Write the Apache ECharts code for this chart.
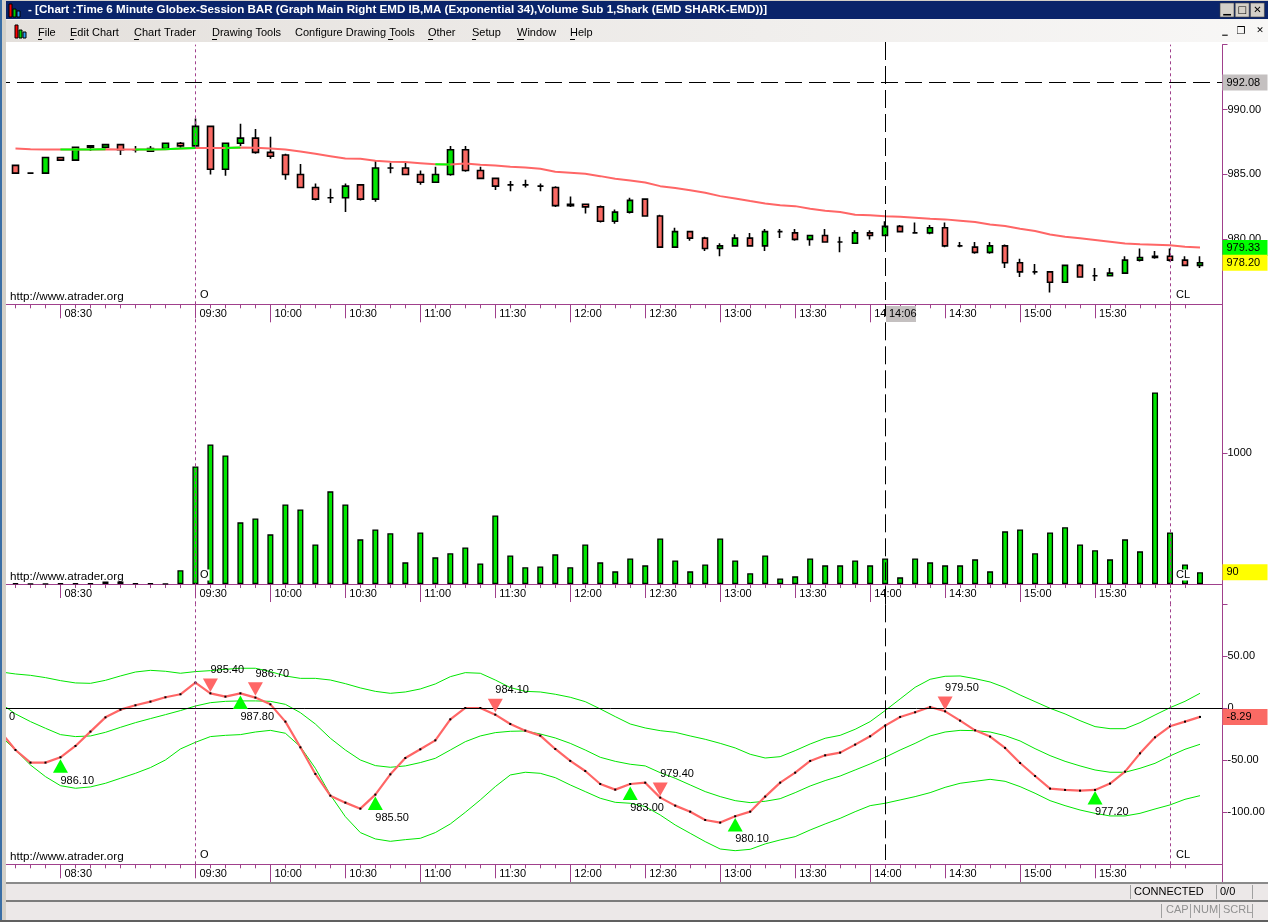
<!DOCTYPE html>
<html><head><meta charset="utf-8">
<style>html,body{margin:0;padding:0;background:#fff}#c{width:1268px;height:922px}</style>
<script src="https://cdn.jsdelivr.net/npm/echarts@6/dist/echarts.min.js"></script>
</head><body><div id="c"></div>
<script>
const tickBars=[3,12,17,22,27,32,37,42,47,52,57,62,67,72];
const tickLabels=['08:30','09:30','10:00','10:30','11:00','11:30','12:00','12:30','13:00','13:30','14:00','14:30','15:00','15:30'];
const longTickLabels=['10:00','11:00','12:00','13:00','14:00','15:00'];
const open=[985.7,985.1,985.1,986.3,986.1,987.1,987.1,987.3,986.9,986.8,987.0,987.4,987.2,988.7,985.4,987.4,987.8,986.7,986.5,985.0,984.0,983.2,983.2,984.2,983.1,985.5,985.5,985.0,984.4,985.0,986.9,985.3,984.7,984.2,984.2,984.1,984.0,982.6,982.7,982.5,981.4,982.1,983.1,981.8,979.4,980.6,980.1,979.3,979.5,980.1,979.5,980.6,980.5,980.0,980.3,979.8,979.7,980.5,980.3,981.0,980.5,980.5,980.9,979.5,979.4,979.0,979.5,978.2,977.5,977.5,976.7,978.0,977.2,977.2,977.4,978.4,978.6,978.7,978.4,978.0];
const close=[985.1,985.1,986.3,986.1,987.1,987.2,987.3,986.9,986.9,987.0,987.4,987.2,988.7,985.4,987.4,987.8,986.7,986.4,985.0,984.0,983.1,983.2,984.1,983.1,985.5,985.5,985.0,984.4,985.0,986.9,985.3,984.7,984.1,984.2,984.2,984.1,982.6,982.7,982.5,981.4,982.1,983.0,981.8,979.4,980.6,980.1,979.3,979.5,980.1,979.5,980.6,980.6,980.0,980.3,979.8,979.8,980.5,980.3,981.0,980.6,980.5,980.9,979.5,979.5,979.0,979.5,978.2,977.5,977.5,976.7,978.0,977.1,977.2,977.4,978.4,978.6,978.7,978.4,978.0,978.2];
const low=[985.1,985.1,985.1,986.1,986.1,986.8,987.0,986.5,986.7,986.8,987.0,987.0,987.2,985.0,984.9,987.2,986.6,986.2,984.6,984.0,983.0,982.8,982.1,983.0,982.9,985.1,985.0,984.2,984.4,984.9,985.2,984.7,983.8,983.7,984.0,983.7,982.5,982.5,982.0,981.3,981.2,982.0,981.8,979.4,979.4,979.9,979.1,978.7,979.5,979.5,979.1,980.1,979.9,979.5,979.8,979.0,979.7,980.0,980.3,980.6,980.5,980.4,979.4,979.4,978.9,978.9,977.8,977.1,977.3,975.9,976.7,977.1,976.8,977.2,977.4,978.3,978.5,978.3,978.0,977.8];
const high=[985.7,985.1,986.3,986.3,987.1,987.2,987.3,987.3,987.2,987.2,987.4,987.5,989.3,988.7,987.4,988.9,988.5,987.9,986.6,985.8,984.3,983.9,984.3,984.2,986.1,985.9,985.9,985.3,985.6,987.2,987.2,985.6,984.7,984.5,984.6,984.3,984.1,983.3,982.7,982.6,982.3,983.2,983.1,981.9,980.9,980.6,980.2,979.7,980.4,980.5,980.8,980.8,980.8,980.3,980.8,980.2,980.7,980.7,981.4,981.1,981.3,981.1,981.3,979.8,979.8,979.8,979.6,978.5,978.1,977.5,978.0,978.1,977.8,977.8,978.7,979.3,979.1,979.3,978.7,978.7];
const ema=[987.00,986.95,986.92,986.92,986.92,986.92,986.95,986.92,986.92,986.92,986.95,987.00,987.03,987.03,987.03,987.08,987.05,987.00,986.92,986.77,986.59,986.41,986.23,986.21,986.05,985.97,985.95,985.87,985.79,985.77,985.85,985.74,985.69,985.59,985.54,985.44,985.21,985.13,985.05,984.87,984.67,984.54,984.38,984.10,983.95,983.79,983.59,983.33,983.15,982.95,982.77,982.62,982.56,982.36,982.21,982.10,981.90,981.85,981.79,981.74,981.67,981.59,981.54,981.44,981.33,981.15,981.03,980.82,980.64,980.38,980.21,980.08,979.95,979.82,979.69,979.62,979.59,979.54,979.44,979.38];
const emaGreenRanges=[[3,6],[8,12],[14,15],[28,29]];
const volume=[5,3,3,5,5,5,20,20,5,5,3,105,900,1068,984,472,502,380,609,571,303,709,609,342,418,388,166,395,204,235,280,158,525,219,128,135,227,128,303,166,97,196,143,349,181,97,150,349,181,82,219,43,59,196,143,143,181,143,196,51,196,166,143,143,189,97,403,418,235,395,434,303,258,189,342,250,1466,395,150,90];
// the first value of each Shark line belongs to the bar just left of the window
const sharkLine=[-22.4,-40.1,-52.2,-52.2,-47.1,-36.2,-22.4,-8.7,-1.3,2.9,6.4,10.6,13.5,24.7,14.4,11.2,14.4,10.3,3.8,-12.8,-37.5,-63.1,-84.0,-90.7,-96.5,-83.0,-63.5,-47.8,-39.4,-30.8,-10.6,0.3,0.3,-6.1,-15.1,-21.5,-26.3,-39.1,-50.6,-60.3,-72.8,-78.2,-72.8,-71.5,-85.9,-93.6,-99.4,-107.4,-109.9,-103.8,-99.4,-84.9,-71.5,-61.9,-50.6,-45.2,-42.6,-34.9,-26.9,-16.7,-8.3,-3.8,1.3,-2.9,-11.9,-21.2,-27.2,-38.1,-52.6,-65.1,-77.2,-78.5,-79.2,-78.5,-72.4,-60.9,-43.3,-27.9,-17.3,-12.8,-8.29];
const bandUpper=[35,33.0,31.7,29.5,26.6,24.4,24.0,26.9,31.1,34.9,36.5,35.6,33.7,35.3,36.2,37.5,38.5,38.5,35.3,31.1,28.8,28.8,27.2,23.7,19.6,16.3,14.4,15.7,18.6,23.4,30.4,34.3,33.7,27.2,19.9,16.3,15.7,13.5,10.6,6.4,-0.6,-8.0,-15.1,-18.9,-21.5,-23.1,-26.6,-29.8,-33.7,-38.1,-44.2,-47.8,-46.5,-40.7,-34.3,-28.8,-26.0,-20.2,-12.8,-2.2,9.0,20.2,27.9,30.8,31.1,28.5,25.3,19.9,12.8,6.4,0,-5.4,-11.9,-17.6,-19.6,-19.6,-13.8,-6.4,0.6,6.7,14.4];
const bandMiddle=[4.8,-5.4,-12.8,-19.2,-25.3,-27.2,-26.6,-23.1,-18.3,-13.8,-9.9,-6.1,-2.2,2.2,5.4,6.7,7.1,7.1,6.7,3.8,-4.2,-15.1,-28.8,-40.1,-49.7,-55.1,-56.7,-55.4,-52.2,-48.1,-40.1,-32.1,-26.6,-23.4,-22.1,-21.8,-24.7,-28.5,-33.7,-40.1,-47.1,-51.0,-53.8,-55.4,-61.9,-67.3,-73.7,-80.1,-84.9,-88.8,-90.7,-89.4,-86.9,-81.1,-74.7,-69.5,-65.1,-59.3,-53.5,-47.1,-40.1,-33.7,-26.6,-22.8,-21.2,-21.5,-22.8,-26.3,-31.4,-38.8,-45.5,-51.0,-55.4,-59.3,-61.5,-61.5,-57.7,-52.9,-45.8,-39.4,-34.6];
const bandLower=[-26.6,-40.1,-54.5,-65.7,-74.4,-76.9,-75.6,-72.1,-67.3,-62.5,-57.0,-49.7,-39.1,-32.7,-27.2,-26.0,-25.3,-22.8,-21.2,-24.0,-36.9,-57.7,-83.3,-104.2,-119.5,-125.6,-127.9,-126.3,-125.0,-119.5,-111.2,-100.0,-88.1,-75.3,-64.1,-61.5,-62.5,-66.7,-73.7,-80.1,-86.5,-90.4,-91.3,-94.5,-102.6,-112.2,-120.2,-128.2,-135.3,-136.9,-135.6,-130.4,-126.6,-123.4,-117.0,-111.2,-105.8,-99.4,-93.6,-91.3,-88.1,-84.9,-81.1,-76.0,-72.1,-70.2,-68.3,-70.2,-75.3,-81.7,-88.8,-93.6,-97.8,-101.0,-103.5,-103.5,-101.0,-96.8,-92.9,-87.5,-84.0];
const buyBars=[3,15,24,41,48,72];
const buyY=[-55.4,5.8,-91.3,-81.7,-111.9,-85.9];
const buyLabels=['986.10','987.80','985.50','983.00','980.10','977.20'];
const sellBars=[13,16,32,43,62];
const sellY=[22.1,18.6,2.6,-77.9,4.8];
const sellLabels=['985.40','986.70','984.10','979.40','979.50'];
const openBar=12, closeBar=77, cursorBar=58;
const cursorPrice=992.08, emaLast=979.33, lastPrice=978.20, lastVolume=90, lastShark=-8.29;
const menuItems=['File','Edit Chart','Chart Trader','Drawing Tools','Configure Drawing Tools','Other','Setup','Window','Help'];
const titleText='- [Chart :Time 6 Minute Globex-Session BAR (Graph Main Right EMD IB,MA (Exponential 34),Volume Sub 1,Shark (EMD SHARK-EMD))]';

const GREEN='#00e600',RED='#fa6a64',LINE_RED='#ff6666',BAND='#00e600',AXIS='#a0408c',F='Liberation Sans';
const offset=i=>i+1;
const cats=['']; for(let i=0;i<80;i++){const t=tickBars.indexOf(i);cats.push(t>=0?tickLabels[t]:'b'+i);} cats.push('end');
const panels=[{top:44.6,h:259.7,up:0},{top:304.3,h:300,up:-20.26},{top:604.3,h:260,up:0}];
const grid=panels.map(p=>({left:-7,width:1229.5,top:p.top,height:p.h,outerBoundsMode:'none',containLabel:false}));
const xAxis=[],yAxis=[];
panels.forEach((p,g)=>{
  const base={type:'category',gridIndex:g,data:cats,boundaryGap:true,position:'bottom',offset:p.up,
    axisLine:{show:true,onZero:false,lineStyle:{color:AXIS,width:1}},splitLine:{show:false}};
  xAxis.push(Object.assign({},base,{axisLabel:{show:false},axisTick:{show:true,alignWithLabel:true,length:4,lineStyle:{color:AXIS},interval:(i)=>i>0&&i<=79}}));
  xAxis.push(Object.assign({},base,{axisTick:{show:true,alignWithLabel:true,length:14,lineStyle:{color:AXIS},interval:(i)=>tickBars.includes(i-1)},
    axisLabel:{show:true,interval:(i)=>tickBars.includes(i-1),align:'left',padding:[0,0,0,4],margin:4,color:'#000',fontFamily:F,fontSize:11,hideOverlap:false}}));
  xAxis.push(Object.assign({},base,{axisLabel:{show:false},axisTick:{show:true,alignWithLabel:true,length:18,lineStyle:{color:AXIS},interval:(i)=>longTickLabels.includes(cats[i])}}));
});
const yBase={position:'right',type:'value',splitLine:{show:false},axisLine:{show:true,onZero:false,lineStyle:{color:AXIS}},axisTick:{show:true,length:5,lineStyle:{color:AXIS}}};
const lblBase={color:'#000',fontFamily:F,fontSize:11,margin:5,padding:[3,0,0,0]};
yAxis.push(Object.assign({},yBase,{gridIndex:0,min:975,max:995,axisTick:{...yBase.axisTick,customValues:[995,990,985,980]},axisLabel:{...lblBase,customValues:[990,985,980],formatter:v=>v.toFixed(2)}}));
yAxis.push(Object.assign({},yBase,{gridIndex:1,min:-155,max:2140,axisTick:{...yBase.axisTick,customValues:[-155,1000]},axisLabel:{...lblBase,customValues:[1000],formatter:v=>String(v)}}));
yAxis.push(Object.assign({},yBase,{gridIndex:2,min:-150,max:100,axisTick:{...yBase.axisTick,customValues:[50,0,-50,-100]},axisLabel:{...lblBase,customValues:[50,0,-50,-100],formatter:v=>v===0?'0':v.toFixed(2)}}));

const vLine=(bar,color,dash)=>({xAxis:offset(bar),lineStyle:{color,type:dash,width:1},label:{show:false}});
const verticals=[vLine(openBar,AXIS,[3,3]),vLine(closeBar,AXIS,[3,3]),vLine(cursorBar,'#000',[18,6])];
const tag=(value,bg,text,lineStyle)=>({yAxis:value,lineStyle:lineStyle||{color:'rgba(0,0,0,0)',width:1},
  label:{show:true,position:'end',distance:0,formatter:text,backgroundColor:bg,color:'#000',fontFamily:F,fontSize:11,width:41,height:16,lineHeight:16,padding:[0,0,0,4],align:'left',verticalAlign:'middle'}});
const mlBase={silent:true,symbol:'none',animation:false};

const emaGreen=ema.map((v,i)=>emaGreenRanges.some(r=>i>=r[0]&&i<=r[1])?[offset(i),v]:[offset(i),'-']);
const bandSeries=(d)=>({type:'line',xAxisIndex:6,yAxisIndex:2,data:d,showSymbol:false,symbol:'none',lineStyle:{color:BAND,width:1},animation:false,z:3,clip:true});
const triLabel=(arr,y)=>({show:true,position:[7.5,y],align:'left',verticalAlign:'middle',color:'#000',fontFamily:F,fontSize:11,formatter:p=>arr[p.dataIndex]});

const series=[
 {type:'candlestick',xAxisIndex:0,yAxisIndex:0,barWidth:6,animation:false,z:3,encode:{x:0,y:[1,2,3,4]},
  data:open.map((o,i)=>[offset(i),o,close[i],low[i],high[i]]),
  itemStyle:{color:GREEN,color0:RED,borderColor:'#000',borderColor0:'#000',borderColorDoji:'#000',borderWidth:1.6},
  markLine:{...mlBase,z:5,data:[...verticals.slice(0,2),
    [{xAxis:offset(cursorBar),y:42,lineStyle:{color:'#000',type:[18,6],width:1},label:{show:false}},{xAxis:offset(cursorBar),y:304.3}],
    tag(cursorPrice,'#c4c0c0',cursorPrice.toFixed(2),{color:'#000',type:[17,7],width:1})]}},
 {type:'line',xAxisIndex:0,yAxisIndex:0,data:ema.map((v,i)=>[offset(i),v]),showSymbol:false,symbol:'none',lineStyle:{color:LINE_RED,width:2},animation:false,z:4,
  markLine:{...mlBase,z:6,data:[tag(emaLast,'#00ff00',emaLast.toFixed(2)),tag(lastPrice,'#ffff00',lastPrice.toFixed(2))]}},
 {type:'line',xAxisIndex:0,yAxisIndex:0,data:emaGreen,showSymbol:false,symbol:'none',lineStyle:{color:'#00ff00',width:2},animation:false,z:4},
 {type:'bar',xAxisIndex:3,yAxisIndex:1,barWidth:6,data:volume.map((v,i)=>[offset(i),v]),itemStyle:{color:GREEN,borderColor:'#000',borderWidth:1.3},animation:false,z:3,
  markLine:{...mlBase,z:5,data:[...verticals,tag(lastVolume,'#ffff00',String(lastVolume))]}},
 bandSeries(bandUpper.map((v,i)=>[i,v])),bandSeries(bandMiddle.map((v,i)=>[i,v])),bandSeries(bandLower.map((v,i)=>[i,v])),
 {type:'line',xAxisIndex:6,yAxisIndex:2,data:sharkLine.map((v,i)=>[i,v]),showSymbol:true,showAllSymbol:true,symbol:'rect',symbolSize:2,itemStyle:{color:'#000'},lineStyle:{color:LINE_RED,width:2.2},animation:false,z:4,
  markLine:{...mlBase,z:5,data:[{yAxis:0,lineStyle:{color:'#000',type:'solid',width:1},label:{show:false}},...verticals.slice(0,2),
    [{xAxis:offset(cursorBar),y:604.3,lineStyle:{color:'#000',type:[18,6],width:1},label:{show:false}},{xAxis:offset(cursorBar),y:860}],
    tag(lastShark,'#fa6a64',lastShark.toFixed(2))]}},
 {type:'scatter',xAxisIndex:6,yAxisIndex:2,symbol:'path://M5,0L10,10L0,10Z',symbolSize:[15,13.5],symbolKeepAspect:false,itemStyle:{color:'#00ff00',opacity:1},animation:false,z:5,
  data:buyBars.map((b,i)=>[offset(b),buyY[i]]),label:triLabel(buyLabels,21.5)},
 {type:'scatter',xAxisIndex:6,yAxisIndex:2,symbol:'path://M0,0L10,0L5,10Z',symbolSize:[15,13.5],itemStyle:{color:LINE_RED,opacity:1},animation:false,z:5,
  data:sellBars.map((b,i)=>[offset(b),sellY[i]]),label:triLabel(sellLabels,-8.5)}
];

const R=(x,y,w,h,fill,extra)=>({type:'rect',shape:{x,y,width:w,height:h},style:{fill},z:100,silent:true,...(extra||{})});
const L=(x1,y1,x2,y2,stroke,w)=>({type:'line',shape:{x1,y1,x2,y2},style:{stroke,lineWidth:w||1},z:101,silent:true});
const T=(x,y,text,o)=>({type:'text',x,y,z:102,silent:true,style:Object.assign({text,fontFamily:F,fontSize:11,fill:'#000',textVerticalAlign:'middle',verticalAlign:'middle'},o||{})});
const logo=(x,y,s)=>[R(x,y,3*s,13*s,'#ff0000',{style:{fill:'#ff0000',stroke:'#000',lineWidth:1}}),R(x+4*s,y+5*s,3*s,8*s,'#00d000',{style:{fill:'#00d000',stroke:'#000',lineWidth:1}}),R(x+8*s,y+7*s,3*s,6*s,'#2a9df4',{style:{fill:'#2a9df4',stroke:'#000',lineWidth:1}})];
const menuX=[38,70,134,212,295,428,472,517,570];
const underlines=[[38,4],[70,4],[134,5],[212,5],[388,5],[428,5],[472,4],[517,7],[570,5]];
const grad={type:'linear',x:0,y:0,x2:1,y2:0,colorStops:[{offset:0,color:'#e4e0dc'},{offset:.6,color:'#f0eeec'},{offset:1,color:'#f8f7f6'}]};
const graphic=[
 R(0,0,1268,1,'#d4d0c8'),R(6,1,1262,18,'#0a246a'),R(0,19,1268,23,'#f4f3f1'),R(6,20,1262,22,grad),
 R(0,0,2,922,'#3a6ea5'),R(2,0,4,922,'#d4d0c8'),
 ...logo(9,4,1),...logo(15,25,1),
 T(28,10,titleText,{fontWeight:'bold',fontSize:11.6,fill:'#fff'}),
 ...['\u2581','\u25a1','\u2715'].flatMap((g,i)=>[R(1220+i*15.2,3,14,14,'#d4d0c8',{style:{fill:'#d4d0c8',stroke:'#404040',lineWidth:.6}}),T(1227+i*15.2,10,g,{fontSize:10,align:'center',textAlign:'center',fontFamily:'DejaVu Sans'})]),
 T(1225,32,'\u2581',{fontSize:7,align:'center',textAlign:'center',fontFamily:'DejaVu Sans'}),T(1241,31,'\u2750',{fontSize:10,align:'center',textAlign:'center',fontFamily:'DejaVu Sans'}),T(1260,31,'\u2715',{fontSize:9,align:'center',textAlign:'center',fontFamily:'DejaVu Sans'}),
 ...menuItems.map((m,i)=>T(menuX[i],33,m,{fontSize:11})),
 ...underlines.map(u=>L(u[0],39.5,u[0]+u[1],39.5,'#000')),
 // watermark and session letters
 ...[297,577,857].map(y=>T(10,y,'http://www.atrader.org',{fontSize:11.7})),
 ...[295,575,855].flatMap(y=>[T(199,y,'O',{backgroundColor:'#fff',padding:[0,1,0,1]}),T(1175,y,'CL',{backgroundColor:'#fff',padding:[0,1,0,1]})]),
 T(9,717,'0'),
 R(886,306,30,16,'#c4c0c0'),T(889,314,'14:06'),
 // right scale foot and status bars
 L(1222.5,864,1222.5,882,AXIS),
 R(6,882,1262,38,'#ece8e8'),R(6,882,1262,2,'#8a8a8a'),R(6,900,1262,2,'#7c7c7c'),R(0,920,1268,2,'#606060'),
 T(1134,892,'CONNECTED',{fontSize:11}),T(1220,892,'0/0',{fontSize:11}),
 L(1130.5,885,1130.5,899,'#a0a0a0'),L(1216.5,885,1216.5,899,'#a0a0a0'),L(1252.5,885,1252.5,899,'#a0a0a0'),
 T(1166,910,'CAP',{fill:'#909090'}),T(1193,910,'NUM',{fill:'#909090'}),T(1223,910,'SCRL',{fill:'#909090'}),
 L(1161.5,904,1161.5,918,'#a0a0a0'),L(1190.5,904,1190.5,918,'#a0a0a0'),L(1219.5,904,1219.5,918,'#a0a0a0'),L(1252.5,904,1252.5,918,'#a0a0a0')
];
const chart=echarts.init(document.getElementById('c'),null,{renderer:'canvas'});
chart.setOption({animation:false,backgroundColor:'#fff',grid,xAxis,yAxis,series,graphic});
</script></body></html>
